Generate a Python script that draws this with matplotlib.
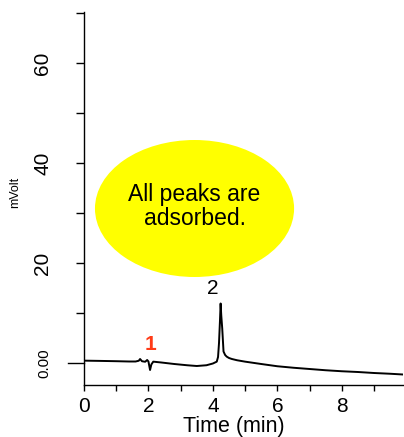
import numpy as np
import matplotlib
matplotlib.use("Agg")
import matplotlib.pyplot as plt
from matplotlib.patches import Ellipse

plt.rcParams['font.family'] = ['Liberation Sans', 'DejaVu Sans']

# chromatogram trace (min, mVolt)
tiempo = [0.0, 0.5, 1.0, 1.4, 1.6, 1.7, 1.74, 1.8, 1.9, 1.96, 2.0, 2.05, 2.09,
          2.15, 2.4, 2.8, 3.2, 3.5, 3.8, 4.0, 4.12, 4.16, 4.19, 4.22, 4.24,
          4.26, 4.29, 4.33, 4.38, 4.43, 4.5, 4.59, 4.75, 5.0, 5.5, 6.0, 6.5,
          7.0, 7.5, 8.0, 8.5, 9.0, 9.5, 9.9]
senal = [0.47, 0.42, 0.36, 0.3, 0.3, 0.45, 0.8, 0.35, 0.25, 0.6, 0.3, -1.4,
         -0.3, 0.27, 0.1, -0.2, -0.45, -0.6, -0.45, -0.1, 0.27, 1.2, 4.0, 8.5,
         11.9, 9.5, 6.9, 2.3, 1.6, 1.27, 1.0, 0.8, 0.55, 0.27, -0.2, -0.65,
         -0.95, -1.2, -1.45, -1.65, -1.8, -2.0, -2.15, -2.3]

x_ticks = [0, 2, 4, 6, 8]
y_ticks = [20, 40, 60]
y_labels = ["20", "40", "60"]

# peak labels: (text, time, height, colour, weight)
picos = [("1", 2.07, 3.8, "#ff3b17", "bold"),
         ("2", 4.0, 14.9, "black", "normal")]

fig = plt.figure(figsize=(4.04, 4.37), dpi=100)
ax = fig.add_axes([84 / 404, 52 / 437, 319 / 404, 373 / 437])

ax.plot(tiempo, senal, color="black", lw=1.4)

ax.set_xlim(0, 9.9)
ax.set_ylim(-4.4, 70.2)

ax.spines['top'].set_visible(False)
ax.spines['right'].set_visible(False)
ax.spines['left'].set_linewidth(1.0)
ax.spines['bottom'].set_linewidth(1.0)

ax.set_xticks(x_ticks)
ax.set_xticks(np.arange(1, 10, 2), minor=True)
ax.tick_params(axis='x', which='both', length=4, width=1.0, pad=5,
               labelsize=15)

ax.set_yticks(y_ticks)
ax.set_yticklabels(y_labels, rotation=90, va='center')
ax.set_yticks([10, 30, 50, 70], minor=True)
ax.tick_params(axis='y', which='both', length=6, width=1.0, pad=17,
               labelsize=15)

# zero line gets a longer tick and a smaller label
ax.plot([-0.5, 0], [0, 0], color="black", lw=1.0, clip_on=False)
ax.text(-1.0, 0, "0.00", rotation=90, ha='right', va='center', fontsize=11)

ax.set_xlabel("Time (min)", fontsize=15.5, va='baseline')
ax.xaxis.set_label_coords(0.47, -0.125)

fig.text(15 / 404, 1 - 192 / 437, "mVolt", rotation=90,
         ha='center', va='center', fontsize=9)

for etiqueta, t, h, color, peso in picos:
    ax.text(t, h, etiqueta, color=color, fontweight=peso, fontsize=15,
            ha='center', va='center')

ax.add_patch(Ellipse((3.43, 30.9), 6.18, 27.4, facecolor="#ffff00",
                     edgecolor="none", zorder=3))
ax.text(3.43, 31.3, "All peaks are\nadsorbed.", ha='center', va='center',
        fontsize=16.5, linespacing=1.05, zorder=4)

fig.savefig("out.png", dpi=100)
